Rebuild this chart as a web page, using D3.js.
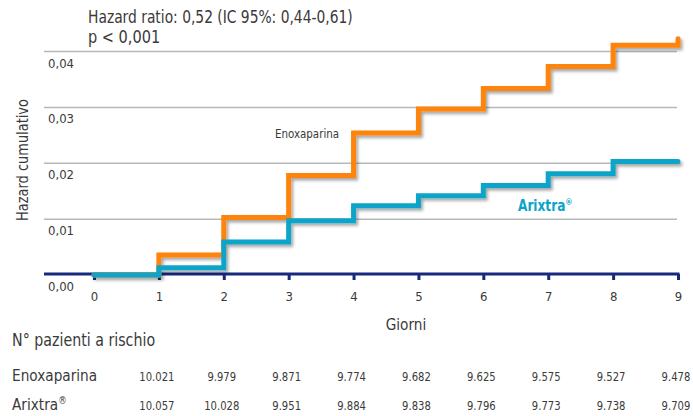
<!DOCTYPE html>
<html>
<head>
<meta charset="utf-8">
<script src="https://cdn.jsdelivr.net/npm/d3@7"></script>
<style>
  html, body { margin: 0; padding: 0; background: #fff; }
  svg { display: block; }
  text { font-family: "Liberation Sans Narrow", "DejaVu Sans Condensed", "Open Sans", sans-serif; fill: #3a3a3a; }
</style>
</head>
<body>
<svg id="chart" width="693" height="416"></svg>
<script>
// Days on the x axis
const days = [0, 1, 2, 3, 4, 5, 6, 7, 8, 9];
// Cumulative hazard at each day (step after), last point closes the curve at day 9
const enoxaparina = [0, 0.0036, 0.0103, 0.0178, 0.0254, 0.0297, 0.0334, 0.0373, 0.0411, 0.0423];
const arixtra     = [0, 0.0013, 0.0059, 0.0097, 0.0124, 0.0142, 0.0160, 0.0181, 0.0203, 0.0203];
// Y axis ticks
const yTicks = [0, 0.01, 0.02, 0.03, 0.04];
// Patients at risk
const riskEnoxaparina = ["10.021", "9.979", "9.871", "9.774", "9.682", "9.625", "9.575", "9.527", "9.478"];
const riskArixtra     = ["10.057", "10.028", "9.951", "9.884", "9.838", "9.796", "9.773", "9.738", "9.709"];

const ORANGE = "#ff8407";
const BLUE = "#0aa4c9";
const NAVY = "#17287f";
const GRID = "#b8b8b8";

const svg = d3.select("#chart");

// Narrow a text horizontally around its anchor point
function narrow(sel, sx) {
  sel.each(function () {
    const t = d3.select(this);
    const tx = +t.attr("x") || 0, ty = +t.attr("y") || 0;
    t.attr("x", 0).attr("y", 0)
     .attr("transform", `translate(${tx},${ty}) scale(${sx},1)`);
  });
  return sel;
}

// Shadow under the curves
const defs = svg.append("defs");
const f = defs.append("filter").attr("id", "shadow")
  .attr("x", "-5%").attr("y", "-5%").attr("width", "115%").attr("height", "120%");
f.append("feDropShadow").attr("dx", 2).attr("dy", 2.5).attr("stdDeviation", 1.6)
  .attr("flood-color", "#000").attr("flood-opacity", 0.35);

const x = d3.scaleLinear().domain([0, 9]).range([94, 678]);
const y = d3.scaleLinear().domain([0, 0.04]).range([275, 51.5]);
const fmt = v => d3.format(".2f")(v).replace(".", ",");

// Horizontal gridlines
svg.append("g").selectAll("line")
  .data(yTicks.filter(d => d > 0))
  .join("line")
  .attr("x1", 44).attr("x2", 677)
  .attr("y1", d => y(d)).attr("y2", d => y(d))
  .attr("stroke", GRID).attr("stroke-width", 1.5);

// Y tick labels, set just under each line
svg.append("g").selectAll("text")
  .data(yTicks)
  .join("text")
  .attr("x", 48).attr("y", d => y(d) + 16)
  .attr("font-size", 13)
  .text(fmt);

// Y axis title
svg.append("text")
  .attr("transform", "translate(28,160) rotate(-90) scale(0.9,1)")
  .attr("text-anchor", "middle")
  .attr("font-size", 16)
  .text("Hazard cumulativo");

// Baseline x axis
const xAxis = d3.axisBottom(x).tickValues(days).tickSize(6).tickPadding(12).tickSizeOuter(0);
const gx = svg.append("g").attr("transform", `translate(0,${y(0) - 1})`).call(xAxis);
gx.select(".domain").remove();
gx.selectAll(".tick line").attr("stroke", NAVY).attr("stroke-width", 3);
gx.selectAll(".tick text").attr("font-size", 13).attr("fill", "#3a3a3a")
  .style("font-family", '"Liberation Sans Narrow", "DejaVu Sans Condensed", sans-serif');
svg.append("line")
  .attr("x1", 44).attr("x2", x(9) + 1.5)
  .attr("y1", y(0) - 1).attr("y2", y(0) - 1)
  .attr("stroke", NAVY).attr("stroke-width", 3);

narrow(svg.append("text")
  .attr("x", (x(0) + x(9)) / 2 + 20).attr("y", 330)
  .attr("text-anchor", "middle").attr("font-size", 16)
  .text("Giorni"), 0.95);

// Step curves
const line = d3.line()
  .x((d, i) => x(days[i]))
  .y(d => y(d))
  .curve(d3.curveStepAfter);

const curves = svg.append("g").attr("filter", "url(#shadow)");
curves.append("path").datum(enoxaparina)
  .attr("d", line).attr("fill", "none")
  .attr("stroke", ORANGE).attr("stroke-width", 5)
  .attr("stroke-linejoin", "miter").attr("stroke-linecap", "round");
curves.append("path").datum(arixtra)
  .attr("d", line).attr("fill", "none")
  .attr("stroke", BLUE).attr("stroke-width", 5)
  .attr("stroke-linejoin", "miter").attr("stroke-linecap", "round");

// Curve labels
narrow(svg.append("text")
  .attr("x", 275).attr("y", 138)
  .attr("font-size", 13)
  .text("Enoxaparina"), 0.88);
const ar = svg.append("text")
  .attr("x", 518).attr("y", 211)
  .attr("font-size", 15).attr("font-weight", "bold")
  .style("fill", BLUE);
ar.append("tspan").text("Arixtra");
ar.append("tspan").attr("font-size", 9).attr("dy", -6).style("fill", BLUE).text("®");
narrow(ar, 0.9);

// Header statistics
narrow(svg.append("text").attr("x", 88).attr("y", 23).attr("font-size", 17)
  .text("Hazard ratio: 0,52 (IC 95%: 0,44-0,61)"), 0.905);
narrow(svg.append("text").attr("x", 88).attr("y", 43).attr("font-size", 17)
  .text("p < 0,001"), 0.95);

// Patients-at-risk table
narrow(svg.append("text").attr("x", 12).attr("y", 346).attr("font-size", 17)
  .text("N° pazienti a rischio"), 0.93);

const col = d3.scalePoint().domain(d3.range(riskEnoxaparina.length)).range([x(1) - 2, x(9) - 2]);
const rows = [
  { name: "Enoxaparina", sup: false, values: riskEnoxaparina, yy: 381 },
  { name: "Arixtra", sup: true, values: riskArixtra, yy: 410 }
];
rows.forEach(r => {
  const t = svg.append("text").attr("x", 12).attr("y", r.yy).attr("font-size", 16);
  t.append("tspan").text(r.name);
  if (r.sup) t.append("tspan").attr("font-size", 10).attr("dy", -6).text("®");
  narrow(t, 0.95);
  narrow(svg.append("g").selectAll("text")
    .data(r.values)
    .join("text")
    .attr("x", (d, i) => col(i)).attr("y", r.yy)
    .attr("text-anchor", "middle").attr("font-size", 13)
    .text(d => d), 0.86);
});
</script>
</body>
</html>
